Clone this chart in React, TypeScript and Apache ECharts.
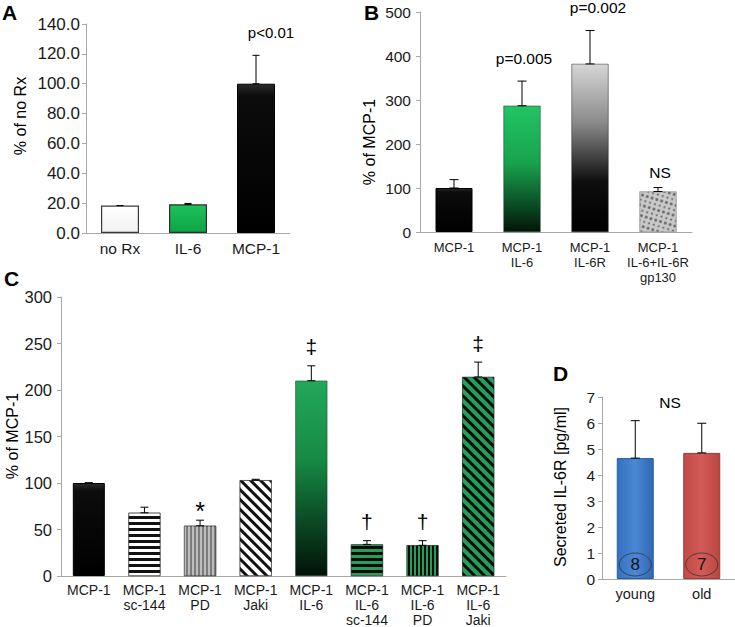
import React, { useEffect, useRef } from "react";
import * as echarts from "echarts";

// ---------- Panel A ----------
const catsA = ["no Rx", "IL-6", "MCP-1"];
const valsA = [18.4, 19.2, 100];
const errA = [0, 0.6, 19];
const notesA = ["", "", "p<0.01"];

// ---------- Panel B ----------
const catsB = ["MCP-1", "MCP-1\nIL-6", "MCP-1\nIL-6R", "MCP-1\nIL-6+IL-6R\ngp130"];
const valsB = [100, 287, 382, 92];
const errB = [19, 56, 76, 9];
const notesB = ["", "p=0.005", "p=0.002", "NS"];

// ---------- Panel C ----------
const catsC = [
  "MCP-1",
  "MCP-1\nsc-144",
  "MCP-1\nPD",
  "MCP-1\nJaki",
  "MCP-1\nIL-6",
  "MCP-1\nIL-6\nsc-144",
  "MCP-1\nIL-6\nPD",
  "MCP-1\nIL-6\nJaki",
];
const valsC = [100, 68, 54, 103, 210, 34, 33, 214];
const errC = [0.4, 6, 6, 1, 16, 4, 5, 16];
const notesC = ["", "", "*", "", "‡", "†", "†", "‡"];

// ---------- Panel D ----------
const catsD = ["young", "old"];
const valsD = [4.65, 4.85];
const errD = [1.44, 1.14];
const countsD = ["8", "7"];
const noteD = "NS";

// ---------- styles ----------
const FONT = "'Liberation Sans', Arial, sans-serif";
const TXT = "#1a1a1a";
const AXIS = "#a8a8a8";

const vGrad = (stops: [number, string][]) =>
  new echarts.graphic.LinearGradient(0, 0, 0, 1, stops.map(([offset, color]) => ({ offset, color })));
const hGrad = (stops: [number, string][]) =>
  new echarts.graphic.LinearGradient(0, 0, 1, 0, stops.map(([offset, color]) => ({ offset, color })));

const blackBar = {
  color: vGrad([[0, "#2a2a2a"], [0.08, "#0c0c0c"], [1, "#000000"]]),
  borderColor: "#000",
  borderWidth: 1,
};

const stripeH = (bg: string, fg: string) => ({
  color: bg,
  borderColor: "#333",
  borderWidth: 0.5,
  decal: { symbol: "rect", symbolSize: 1, dashArrayX: [1, 0], dashArrayY: [2.4, 2.4], rotation: 0, color: fg },
});
const stripeV = (bg: string, fg: string) => ({
  color: bg,
  borderColor: "#333",
  borderWidth: 0.5,
  decal: { symbol: "rect", symbolSize: 1, dashArrayX: [1.8, 1.8], dashArrayY: [1, 0], rotation: 0, color: fg },
});
const stripeD = (bg: string, fg: string) => ({
  color: bg,
  borderColor: "#333",
  borderWidth: 0.5,
  decal: { symbol: "rect", symbolSize: 1, dashArrayX: [1, 0], dashArrayY: [3, 3.6], rotation: Math.PI / 4, color: fg },
});

const stylesA = [
  { color: vGrad([[0, "#ffffff"], [1, "#f2f2f2"]]), borderColor: "#3a3a3a", borderWidth: 1.2 },
  { color: vGrad([[0, "#1cc25a"], [1, "#0fa446"]]), borderColor: "#2d2d2d", borderWidth: 1.2 },
  blackBar,
];

const stylesB = [
  blackBar,
  {
    color: vGrad([[0, "#22c463"], [0.45, "#18a34e"], [0.8, "#0a4a22"], [1, "#021408"]]),
    borderColor: "#0b3a1b",
    borderWidth: 0.5,
  },
  {
    color: vGrad([[0, "#d6d6d6"], [0.35, "#8a8a8a"], [0.7, "#0e0e0e"], [1, "#000"]]),
    borderColor: "#222",
    borderWidth: 0.5,
  },
  {
    color: "#c9c9c9",
    borderColor: "#999",
    borderWidth: 0.5,
    decal: {
      symbol: "circle",
      symbolSize: 1,
      dashArrayX: [[2.5, 2], [1.5, 3]],
      dashArrayY: [2.2, 1.3],
      rotation: 0.3,
      color: "#666666",
    },
  },
];

const GREEN = "#22a05a";
const stylesC = [
  blackBar,
  stripeH("#ffffff", "#111111"),
  stripeV("#7c7c7c", "#bdbdbd"),
  stripeD("#ffffff", "#111111"),
  {
    color: vGrad([[0, "#22a85a"], [0.4, "#178a45"], [0.8, "#083a1c"], [1, "#021208"]]),
    borderColor: "#0b3a1b",
    borderWidth: 0.5,
  },
  stripeH(GREEN, "#0a0a0a"),
  stripeV(GREEN, "#0a0a0a"),
  stripeD(GREEN, "#0a0a0a"),
];

const stylesD = [
  {
    color: hGrad([[0, "#3470c0"], [0.5, "#4a88d6"], [1, "#3068b5"]]),
    borderColor: "#2b5c9c",
    borderWidth: 1,
  },
  {
    color: hGrad([[0, "#c24a46"], [0.5, "#d45b57"], [1, "#b94541"]]),
    borderColor: "#9a3835",
    borderWidth: 1,
  },
];

// ---------- helpers ----------
function xAxisCfg(gridIndex: number, data: string[], fontSize: number, margin: number) {
  return {
    type: "category",
    gridIndex,
    data,
    axisLine: { lineStyle: { color: AXIS, width: 1 } },
    axisTick: { show: false },
    axisLabel: {
      interval: 0,
      margin,
      fontSize,
      lineHeight: 15,
      color: TXT,
      fontFamily: FONT,
    },
  };
}

function yAxisCfg(
  gridIndex: number,
  max: number,
  interval: number,
  fontSize: number,
  margin: number,
  fmt?: (v: number) => string
) {
  return {
    type: "value",
    gridIndex,
    min: 0,
    max,
    interval,
    splitLine: { show: false },
    axisLine: { show: true, lineStyle: { color: AXIS, width: 1 } },
    axisTick: { show: true, length: 4, lineStyle: { color: AXIS } },
    axisLabel: { margin, fontSize, color: TXT, fontFamily: FONT, formatter: fmt },
  };
}

function barSeries(idx: number, vals: number[], styles: any[], barWidth: number) {
  return {
    type: "bar",
    xAxisIndex: idx,
    yAxisIndex: idx,
    barWidth,
    data: vals.map((v, i) => ({ value: v, itemStyle: styles[i] })),
  };
}

function errorSeries(
  idx: number,
  vals: number[],
  errs: number[],
  notes: string[],
  capW: number,
  noteFont: (n: string) => number,
  noteGap: (n: string) => number,
  noteDx: number[]
) {
  return {
    type: "custom",
    xAxisIndex: idx,
    yAxisIndex: idx,
    z: 10,
    data: vals.map((v, i) => [i, v, v + errs[i]]),
    encode: { x: 0, y: [1, 2] },
    renderItem: (params: any, api: any) => {
      const i = api.value(0);
      const lo = api.coord([i, api.value(1)]);
      const hi = api.coord([i, api.value(2)]);
      const children: any[] = [];
      const st = { stroke: "#000", lineWidth: 1 };
      if (lo[1] - hi[1] > 0.6) {
        children.push({ type: "line", shape: { x1: lo[0], y1: lo[1], x2: hi[0], y2: hi[1] }, style: st });
        children.push({
          type: "line",
          shape: { x1: hi[0] - capW / 2, y1: hi[1], x2: hi[0] + capW / 2, y2: hi[1] },
          style: st,
        });
        children.push({
          type: "line",
          shape: { x1: lo[0] - capW / 2, y1: lo[1], x2: lo[0] + capW / 2, y2: lo[1] },
          style: st,
        });
      } else {
        children.push({
          type: "line",
          shape: { x1: hi[0] - capW / 2, y1: hi[1], x2: hi[0] + capW / 2, y2: hi[1] },
          style: st,
        });
      }
      const n = notes[params.dataIndex];
      if (n) {
        children.push({
          type: "text",
          x: hi[0] + (noteDx[params.dataIndex] || 0),
          y: hi[1] - noteGap(n),
          style: {
            text: n,
            fontSize: noteFont(n),
            fontFamily: FONT,
            fill: "#000",
            align: "center",
            verticalAlign: "middle",
          },
        });
      }
      return { type: "group", children };
    },
  };
}

function countSeries(idx: number, counts: string[]) {
  return {
    type: "custom",
    xAxisIndex: idx,
    yAxisIndex: idx,
    z: 11,
    data: counts.map((c, i) => [i, 0]),
    encode: { x: 0, y: 1 },
    renderItem: (params: any, api: any) => {
      const p = api.coord([api.value(0), 0]);
      const cy = p[1] - 14.5;
      return {
        type: "group",
        children: [
          {
            type: "ellipse",
            shape: { cx: p[0], cy, rx: 16, ry: 11.5 },
            style: { fill: "none", stroke: "#333", lineWidth: 0.8 },
          },
          {
            type: "text",
            x: p[0],
            y: cy,
            style: {
              text: counts[params.dataIndex],
              fontSize: 17,
              fontFamily: FONT,
              fill: "#111",
              align: "center",
              verticalAlign: "middle",
            },
          },
        ],
      };
    },
  };
}

function txt(text: string, x: number, y: number, fontSize: number, extra: any = {}) {
  return {
    type: "text",
    x,
    y,
    rotation: extra.rotation || 0,
    style: {
      text,
      fontSize,
      fontFamily: FONT,
      fontWeight: extra.bold ? "bold" : "normal",
      fill: "#000",
      align: "center",
      verticalAlign: "middle",
    },
  };
}

export default function App() {
  const ref = useRef<HTMLDivElement>(null);
  useEffect(() => {
    if (!ref.current) return;
    const chart = echarts.init(ref.current, undefined, { renderer: "svg" });
    const option: any = {
      animation: false,
      backgroundColor: "#ffffff",
      grid: [
        { left: 86, top: 24, width: 204, height: 209 },
        { left: 420, top: 12, width: 272, height: 220 },
        { left: 61, top: 297, width: 445, height: 283 },
        { left: 602, top: 397, width: 136, height: 182 },
      ],
      xAxis: [
        xAxisCfg(0, catsA, 15.5, 8),
        xAxisCfg(1, catsB, 13, 8),
        xAxisCfg(2, catsC, 14, 6),
        xAxisCfg(3, catsD, 14.5, 7),
      ],
      yAxis: [
        yAxisCfg(0, 140, 20, 17, 6, (v: number) => v.toFixed(1)),
        yAxisCfg(1, 500, 100, 15.5, 9),
        yAxisCfg(2, 300, 50, 16.5, 9),
        yAxisCfg(3, 7, 1, 15.5, 7),
      ],
      series: [
        barSeries(0, valsA, stylesA, 38),
        barSeries(1, valsB, stylesB, 37),
        barSeries(2, valsC, stylesC, 32),
        barSeries(3, valsD, stylesD, 37),
        errorSeries(0, valsA, errA, notesA, 7, () => 15, () => 23, [0, 0, 15]),
        errorSeries(1, valsB, errB, notesB, 9, () => 15.5, (n) => (n === "NS" ? 15 : 23), [0, 2, 8, 2]),
        errorSeries(
          2,
          valsC,
          errC,
          notesC,
          8,
          (n) => (n === "*" ? 25 : 21),
          (n) => (n === "*" ? 9 : 19),
          [0, 0, 0, 0, 0, 0, 0, 0]
        ),
        errorSeries(3, valsD, errD, ["", ""], 9, () => 15, () => 0, [0, 0]),
        countSeries(3, countsD),
      ],
      graphic: [
        txt("A", 9.5, 12, 21, { bold: true }),
        txt("B", 371.5, 12, 21, { bold: true }),
        txt("C", 11.5, 278, 21, { bold: true }),
        txt("D", 560.5, 373, 21, { bold: true }),
        txt("% of no Rx", 20, 116, 16, { rotation: Math.PI / 2 }),
        txt("% of MCP-1", 369, 142, 16, { rotation: Math.PI / 2 }),
        txt("% of MCP-1", 12, 436, 16, { rotation: Math.PI / 2 }),
        txt("Secreted IL-6R [pg/ml]", 560, 487, 16, { rotation: Math.PI / 2 }),
        txt(noteD, 670, 402, 15.5),
      ],
    };
    chart.setOption(option);
    return () => chart.dispose();
  }, []);
  return (
    <div
      ref={ref}
      style={{ position: "fixed", left: 0, top: 0, width: 735, height: 627, background: "#fff" }}
    />
  );
}
